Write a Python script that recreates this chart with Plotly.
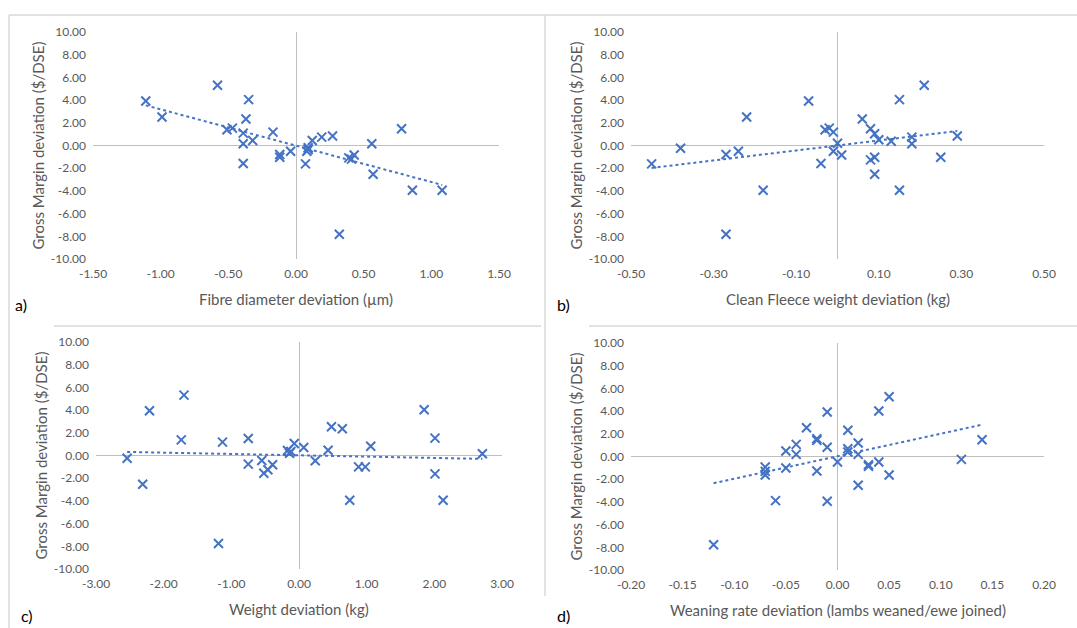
import numpy as np
import plotly.graph_objects as go

# ---------------- data ----------------
fibre_x = [-1.11, -0.99, -0.58, -0.35, -0.37, -0.51, -0.47, -0.39, -0.39, -0.32, -0.39, -0.17,
           -0.12, -0.12, -0.04, 0.07, 0.08, 0.09, 0.09, 0.12, 0.19, 0.27, 0.32, 0.39, 0.41, 0.43,
           0.56, 0.57, 0.78, 0.86, 1.08]
fibre_y = [3.92, 2.51, 5.31, 4.04, 2.33, 1.39, 1.53, 1.09, 0.15, 0.44, -1.59, 1.18,
           -0.80, -1.03, -0.50, -1.62, -0.50, -0.20, -0.35, 0.44, 0.74, 0.83, -7.82, -1.09, -1.20, -0.83,
           0.15, -2.54, 1.47, -3.95, -3.95]

fleece_x = [-0.45, -0.38, -0.27, -0.24, -0.22, -0.18, -0.27, -0.07, -0.04, -0.03, -0.02, -0.01,
            -0.01, 0.00, 0.01, 0.06, 0.08, 0.09, 0.08, 0.09, 0.09, 0.10, 0.13, 0.15, 0.15, 0.18,
            0.18, 0.21, 0.25, 0.29]
fleece_y = [-1.62, -0.24, -0.80, -0.50, 2.51, -3.95, -7.82, 3.92, -1.59, 1.39, 1.53, 1.18,
            -0.50, 0.20, -0.83, 2.33, 1.47, 1.03, -1.27, -1.03, -2.54, 0.50, 0.38, 4.04, -3.95, 0.74,
            0.15, 5.31, -1.03, 0.83]

weight_x = [-2.54, -2.31, -2.21, -1.74, -1.70, -1.19, -1.13, -0.75, -0.75, -0.55, -0.52, -0.46,
            -0.39, -0.17, -0.14, -0.12, -0.07, 0.07, 0.24, 0.43, 0.48, 0.64, 0.75, 0.88, 0.98,
            1.06, 1.85, 2.01, 2.01, 2.13, 2.71]
weight_y = [-0.24, -2.53, 3.94, 1.38, 5.32, -7.76, 1.18, 1.50, -0.76, -0.44, -1.56, -1.26,
            -0.82, 0.44, 0.20, 0.35, 1.06, 0.71, -0.47, 0.47, 2.53, 2.35, -3.94, -1.00, -1.00,
            0.82, 4.03, 1.53, -1.62, -3.94, 0.15]

wean_x = [-0.12, -0.07, -0.07, -0.07, -0.06, -0.05, -0.05, -0.04, -0.04, -0.03, -0.02, -0.02,
          -0.02, -0.01, -0.01, -0.01, 0.00, 0.01, 0.01, 0.01, 0.02, 0.02, 0.02, 0.03, 0.03,
          0.04, 0.04, 0.05, 0.05, 0.12, 0.14]
wean_y = [-7.77, -0.93, -1.31, -1.63, -3.89, 0.48, -1.01, 1.07, 0.19, 2.54, 1.57, 1.42,
          -1.28, 3.92, 0.81, -3.95, -0.48, 2.31, 0.69, 0.40, 1.19, 0.19, -2.54, -0.72, -0.87,
          4.01, -0.48, 5.27, -1.63, -0.25, 1.48]

x_titles = ["Fibre diameter deviation (\u00b5m)", "Clean Fleece weight deviation (kg)",
            "Weight deviation (kg)", "Weaning rate deviation (lambs weaned/ewe joined)"]
y_title = "Gross Margin deviation ($/DSE)"
panel_labels = ["a)", "b)", "c)", "d)"]
x_tickvals = [[-1.5, -1.0, -0.5, 0.0, 0.5, 1.0, 1.5],
              [-0.5, -0.3, -0.1, 0.1, 0.3, 0.5],
              [-3.0, -2.0, -1.0, 0.0, 1.0, 2.0, 3.0],
              [-0.2, -0.15, -0.1, -0.05, 0.0, 0.05, 0.1, 0.15, 0.2]]
x_ranges = [[-1.5, 1.5], [-0.5, 0.5], [-3.0, 3.0], [-0.2, 0.2]]
y_tickvals = [10, 8, 6, 4, 2, 0, -2, -4, -6, -8, -10]
y_range = [-10, 10]

# ---------------- layout geometry (pixels) ----------------
W, H = 1077, 628
BLUE = "#4472C4"
GREY = "#595959"
FONT = "Lato"

# plot areas: (left, right, top, bottom)
boxes = [(93, 499, 32, 259), (631, 1044, 32, 259), (96, 502, 342, 569), (631, 1044, 343, 570)]
label_pos = [(21, 304), (563, 304), (27, 615), (563, 615)]


def px(x):
    return x / W


def py(y):
    return 1 - y / H


def fmt(v):
    return f"{v:.2f}"


fig = go.Figure()
datasets = [(fibre_x, fibre_y), (fleece_x, fleece_y), (weight_x, weight_y), (wean_x, wean_y)]
annotations = []
for i, (xs, ys) in enumerate(datasets):
    n = i + 1
    xa = "x" if n == 1 else f"x{n}"
    ya = "y" if n == 1 else f"y{n}"
    # trendline (linear least squares, like Excel)
    k, b = np.polyfit(xs, ys, 1)
    tx = [min(xs), max(xs)]
    fig.add_trace(go.Scatter(x=tx, y=[k * t + b for t in tx], mode="lines",
                             line=dict(color=BLUE, width=2, dash="dot"),
                             xaxis=xa, yaxis=ya, showlegend=False, hoverinfo="skip"))
    fig.add_trace(go.Scatter(x=xs, y=ys, mode="markers",
                             marker=dict(symbol="x-thin", size=9, color=BLUE,
                                         line=dict(width=2, color=BLUE)),
                             xaxis=xa, yaxis=ya, showlegend=False))
    l, r, t, btm = boxes[i]
    common = dict(showgrid=False, zeroline=True, zerolinecolor="#BFBFBF", zerolinewidth=1,
                  showline=False, ticks="", automargin=False,
                  tickfont=dict(family=FONT, size=12, color=GREY), ticklabelstandoff=6)
    fig.update_layout(**{
        ("xaxis" if n == 1 else f"xaxis{n}"): dict(domain=[px(l), px(r)], range=x_ranges[i],
                                                   tickmode="array", tickvals=x_tickvals[i],
                                                   ticktext=[fmt(v) for v in x_tickvals[i]],
                                                   anchor=ya, **common),
        ("yaxis" if n == 1 else f"yaxis{n}"): dict(domain=[py(btm), py(t)], range=y_range,
                                                   tickmode="array", tickvals=y_tickvals,
                                                   ticktext=[fmt(v) for v in y_tickvals],
                                                   anchor=xa, **common),
    })
    annotations.append(dict(text=x_titles[i], x=px((l + r) / 2), y=py(btm + 40), xref="paper",
                            yref="paper", showarrow=False, xanchor="center", yanchor="middle",
                            font=dict(family=FONT, size=15, color=GREY)))
    annotations.append(dict(text=y_title, x=px(l - 56), y=py((t + btm) / 2), xref="paper",
                            yref="paper", showarrow=False, textangle=-90, xanchor="center",
                            yanchor="middle", font=dict(family=FONT, size=15, color=GREY)))
    lx, ly = label_pos[i]
    annotations.append(dict(text=panel_labels[i], x=px(lx), y=py(ly), xref="paper", yref="paper",
                            showarrow=False, xanchor="center", yanchor="middle",
                            font=dict(family=FONT, size=16, color="#000000")))

BORDER = "#D9D9D9"
lines = [
    (9, 15, 1077, 15),      # top
    (9, 15, 9, 628),        # left
    (545, 15, 545, 596),    # middle vertical
    (54, 326, 541, 326),    # separator left
    (589, 326, 1077, 326),  # separator right
]
shapes = [dict(type="line", xref="paper", yref="paper", x0=px(a), y0=py(b_), x1=px(c), y1=py(d),
               line=dict(color=BORDER, width=1.5), layer="below") for a, b_, c, d in lines]

fig.update_layout(width=W, height=H, margin=dict(l=0, r=0, t=0, b=0, autoexpand=False),
                  paper_bgcolor="white", plot_bgcolor="white",
                  annotations=annotations, shapes=shapes)
fig.write_html("out.html", config={"displayModeBar": False},
               post_script="document.body.style.margin='0';document.body.style.overflow='hidden';")
